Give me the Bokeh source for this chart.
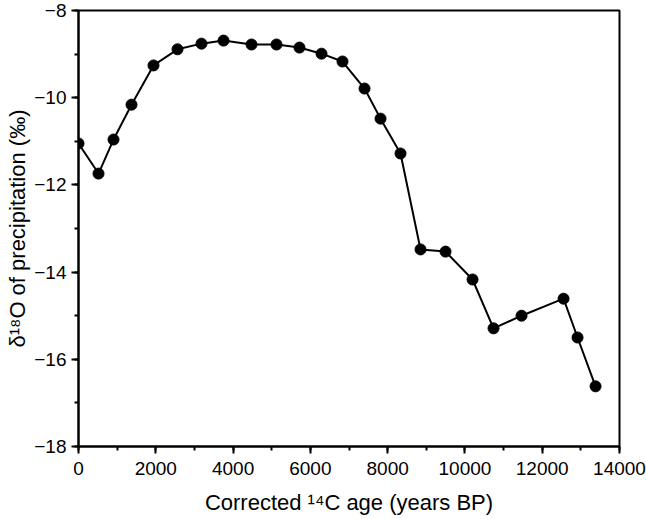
from bokeh.plotting import figure
from bokeh.models import Range1d, FixedTicker, Title
from bokeh.embed import file_html
from bokeh.resources import INLINE

age = [0, 518, 906, 1372, 1941, 2562, 3183, 3753, 4477, 5124, 5719, 6289, 6832,
       7402, 7816, 8333, 8851, 9498, 10197, 10740, 11465, 12552, 12914, 13380]
d18o = [-11.05, -11.74, -10.96, -10.16, -9.26, -8.89, -8.76, -8.69, -8.78, -8.78,
        -8.85, -8.99, -9.17, -9.79, -10.48, -11.28, -13.48, -13.53, -14.17, -15.29,
        -15.00, -14.61, -15.50, -16.62]

x_ticks = [0, 2000, 4000, 6000, 8000, 10000, 12000, 14000]
y_ticks = [-18, -16, -14, -12, -10, -8]
y_tick_labels = {t: ("\u2212" + str(abs(t))) for t in y_ticks}
x_label = "Corrected \u00b9\u2074C age (years BP)"
y_label = "\u03b4\u00b9\u2078O of precipitation (\u2030)"

FONT = "Liberation Sans"

p = figure(frame_width=541, frame_height=436, output_backend="svg", toolbar_location=None,
           x_range=Range1d(0, 14000), y_range=Range1d(-18, -8),
           min_border_left=78, min_border_right=27, min_border_top=10, min_border_bottom=73)
p.background_fill_color = "white"
p.border_fill_color = "white"
p.grid.visible = False
p.outline_line_color = "black"
p.outline_line_width = 2

p.line(age, d18o, line_color="black", line_width=2)
p.scatter(age, d18o, size=11, fill_color="black", line_color="black")

p.xaxis.ticker = FixedTicker(ticks=x_ticks, minor_ticks=list(range(0, 14001, 1000)))
p.yaxis.ticker = FixedTicker(ticks=y_ticks, minor_ticks=list(range(-18, -7, 1)))
p.yaxis.major_label_overrides = y_tick_labels

for ax in (p.xaxis, p.yaxis):
    ax.axis_line_width = 2
    ax.axis_line_color = "black"
    ax.major_tick_line_width = 2
    ax.minor_tick_line_width = 2
    ax.major_tick_out = 7
    ax.major_tick_in = 0
    ax.minor_tick_out = 4
    ax.minor_tick_in = 0
    ax.major_label_text_font = FONT
    ax.major_label_text_font_size = "19px"
    ax.major_label_text_color = "black"
    ax.axis_label_text_font = FONT
    ax.axis_label_text_font_size = "22px"
    ax.axis_label_text_font_style = "normal"
    ax.axis_label_text_color = "black"

p.xaxis.axis_label = x_label
p.xaxis.major_label_standoff = 8
p.yaxis.major_label_standoff = 5
p.xaxis.axis_label_standoff = 12

ytitle = Title(text=y_label, align="center", offset=16, standoff=4,
               text_font=FONT, text_font_size="22px", text_font_style="normal",
               text_color="black")
p.add_layout(ytitle, "left")

open("out.html", "w").write(file_html(p, INLINE))
